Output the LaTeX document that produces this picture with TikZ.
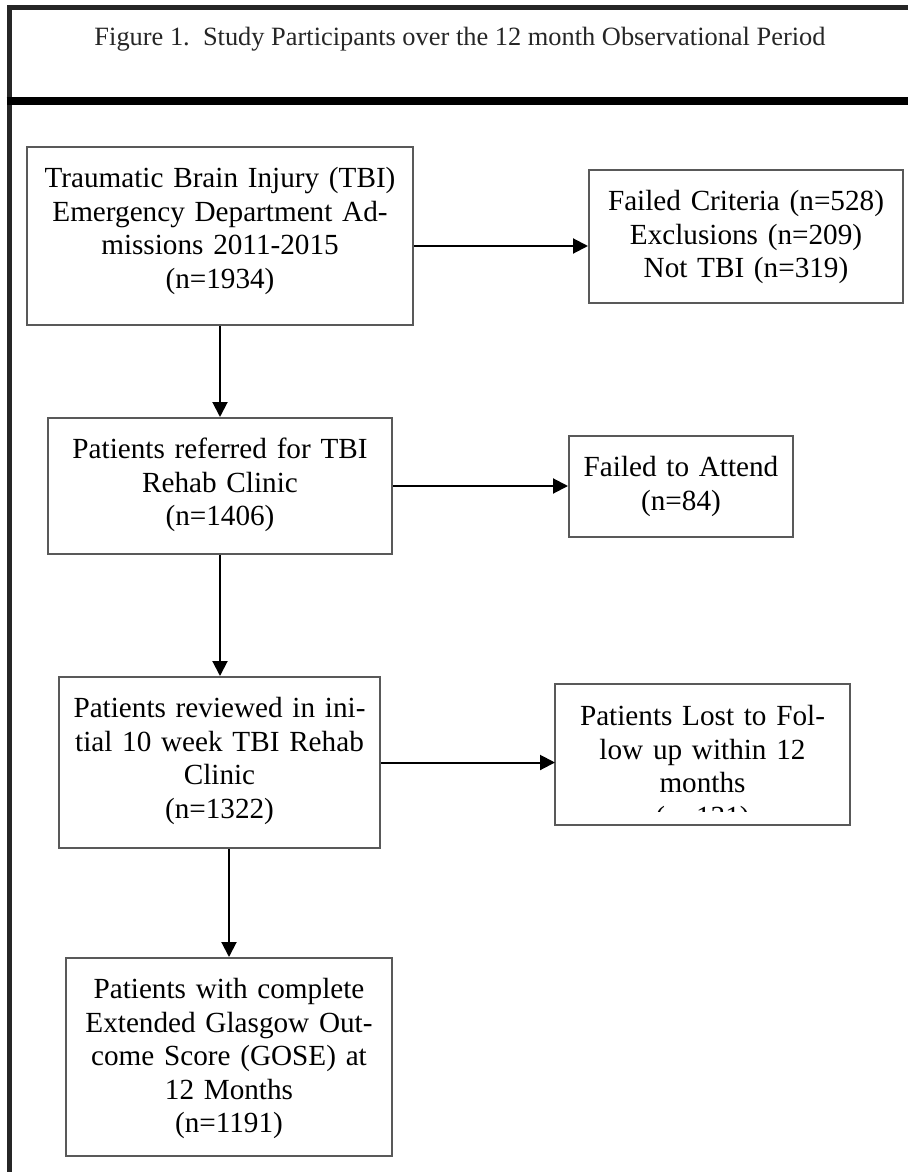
\documentclass[tikz,border=0pt]{standalone}
\usepackage{fontspec}
\setmainfont{Liberation Serif}
\usetikzlibrary{arrows.meta}

\begin{document}
\begin{tikzpicture}[x=0.5pt, y=-0.5pt,
        flow/.style={draw=black!65, line width=1pt, anchor=north west, align=center,
            inner xsep=0pt, inner ysep=0pt, text height=20.3pt,
            font=\fontsize{14.6pt}{16.75pt}\selectfont},
        arr/.style={-{Triangle[length=7.5pt,width=7.5pt]}, line width=1pt}]
        \useasboundingbox (0,0) rectangle (908,1172);
        \draw[line width=2.5pt, black!85] (908,7.5) -- (9,7.5) -- (9,1172);
        \draw[line width=4pt] (6.5,101) -- (908,101);
        \node[anchor=base, text=black!85, font=\fontsize{13.2pt}{15pt}\selectfont] (title) at (460,46) {Figure 1.\ \ Study Participants over the 12 month Observational Period};
        \node[flow, text width=193pt, text depth=68.7pt] (tbi) at (26,146) {Traumatic Brain Injury (TBI)\\Emergency Department Ad-\\missions 2011-2015\\(n=1934)};
        \node[flow, text width=157pt, text depth=46.2pt] (crit) at (588,169) {Failed Criteria (n=528)\\Exclusions (n=209)\\Not TBI (n=319)};
        \node[flow, text width=172pt, text depth=47.7pt] (ref) at (47,417) {Patients referred for TBI\\Rehab Clinic\\(n=1406)};
        \node[flow, text width=112pt, text depth=30.2pt] (fta) at (568,435) {Failed to Attend\\(n=84)};
        \node[flow, text width=160.5pt, text depth=65.2pt] (rev) at (58,676) {Patients reviewed in ini-\\tial 10 week TBI Rehab\\Clinic\\(n=1322)};
        \begin{scope}
            \clip (540,670) rectangle (860,811);
            \node[flow, draw=none, text width=146.5pt, text depth=49.2pt] (lost) at (555,684) {Patients Lost to Fol-\\low up within 12\\months\\(n=131)};
        \end{scope}
        \draw[black!65, line width=1pt] (lost.north west) rectangle (lost.south east);
        \node[flow, text width=163pt, text depth=78.7pt] (gose) at (65,957) {Patients with complete\\Extended Glasgow Out-\\come Score (GOSE) at\\12 Months\\(n=1191)};
        \draw[arr] ([yshift=-5pt]tbi.east) -- ([yshift=-5pt]tbi.east -| crit.west);
        \draw[arr] (tbi.south) -- (ref.north);
        \draw[arr] (ref.east) -- (ref.east -| fta.west);
        \draw[arr] (ref.south) -- (ref.south |- rev.north);
        \draw[arr] (rev.east) -- (rev.east -| lost.west);
        \draw[arr] (gose.north |- rev.south) -- (gose.north);
    \end{tikzpicture}
\end{document}
